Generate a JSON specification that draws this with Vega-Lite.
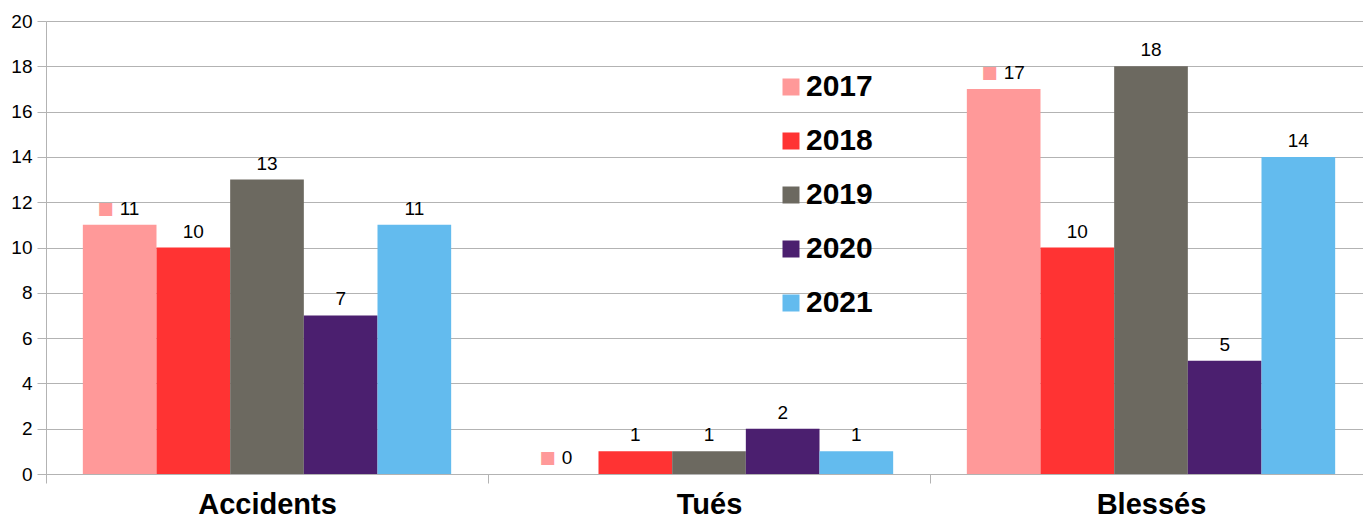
{
  "$schema": "https://vega.github.io/schema/vega-lite/v6.json",
  "width": 1317,
  "height": 453,
  "autosize": "none",
  "padding": {"left": 46, "top": 21, "right": 0, "bottom": 45},
  "config": {"font": "Liberation Sans", "view": {"stroke": null}},
  "data": {
    "values": [
      {"cat": "Accidents", "year": "2017", "value": 11},
      {"cat": "Accidents", "year": "2018", "value": 10},
      {"cat": "Accidents", "year": "2019", "value": 13},
      {"cat": "Accidents", "year": "2020", "value": 7},
      {"cat": "Accidents", "year": "2021", "value": 11},
      {"cat": "Tués", "year": "2017", "value": 0},
      {"cat": "Tués", "year": "2018", "value": 1},
      {"cat": "Tués", "year": "2019", "value": 1},
      {"cat": "Tués", "year": "2020", "value": 2},
      {"cat": "Tués", "year": "2021", "value": 1},
      {"cat": "Blessés", "year": "2017", "value": 17},
      {"cat": "Blessés", "year": "2018", "value": 10},
      {"cat": "Blessés", "year": "2019", "value": 18},
      {"cat": "Blessés", "year": "2020", "value": 5},
      {"cat": "Blessés", "year": "2021", "value": 14}
    ]
  },
  "encoding": {
    "x": {
      "field": "cat", "type": "nominal", "sort": ["Accidents", "Tués", "Blessés"],
      "scale": {"range": [0, 1326], "paddingInner": 0, "paddingOuter": 0},
      "axis": {
        "title": null, "labelAngle": 0, "labelFontSize": 29, "labelFontWeight": "bold",
        "labelColor": "#000000", "tickBand": "extent", "tickSize": 9, "tickColor": "#b3b3b3",
        "domainColor": "#b3b3b3", "labelPadding": 7, "grid": false
      }
    },
    "xOffset": {"field": "year", "type": "nominal", "scale": {"paddingInner": 0, "paddingOuter": 0.5}},
    "y": {
      "field": "value", "type": "quantitative",
      "scale": {"domain": [0, 20], "nice": false},
      "axis": {
        "title": null, "values": [0, 2, 4, 6, 8, 10, 12, 14, 16, 18, 20],
        "labelFontSize": 19, "labelColor": "#000000", "tickSize": 9,
        "tickColor": "#b3b3b3", "domainColor": "#b3b3b3", "gridColor": "#b3b3b3",
        "labelPadding": 5
      }
    }
  },
  "layer": [
    {
      "mark": {"type": "bar"},
      "encoding": {
        "color": {
          "field": "year", "type": "nominal",
          "scale": {"domain": ["2017", "2018", "2019", "2020", "2021"],
                    "range": ["#ff9999", "#ff3333", "#6c6960", "#4b1f6f", "#63bbee"]},
          "legend": {
            "orient": "none", "legendX": 730, "legendY": 51, "title": null,
            "labelFontSize": 30, "labelFontWeight": "bold", "labelColor": "#000000",
            "symbolType": "square", "symbolSize": 289, "symbolStrokeWidth": 0,
            "rowPadding": 24, "labelOffset": 0
          }
        }
      }
    },
    {
      "transform": [{"filter": "datum.year != '2017'"}],
      "mark": {"type": "text", "baseline": "alphabetic", "dy": -10, "fontSize": 19, "color": "#000000"},
      "encoding": {"text": {"field": "value", "type": "quantitative"}}
    },
    {
      "transform": [{"filter": "datum.year == '2017'"}],
      "mark": {"type": "text", "align": "left", "baseline": "alphabetic", "dx": 0, "dy": -10, "fontSize": 19, "color": "#000000"},
      "encoding": {"text": {"field": "value", "type": "quantitative"}}
    },
    {
      "transform": [{"filter": "datum.year == '2017'"}],
      "mark": {"type": "text", "align": "right", "baseline": "alphabetic", "dx": -6, "dy": -11, "fontSize": 17, "font": "DejaVu Sans", "text": "■", "color": "#ff9999"},
      "encoding": {}
    }
  ]
}
